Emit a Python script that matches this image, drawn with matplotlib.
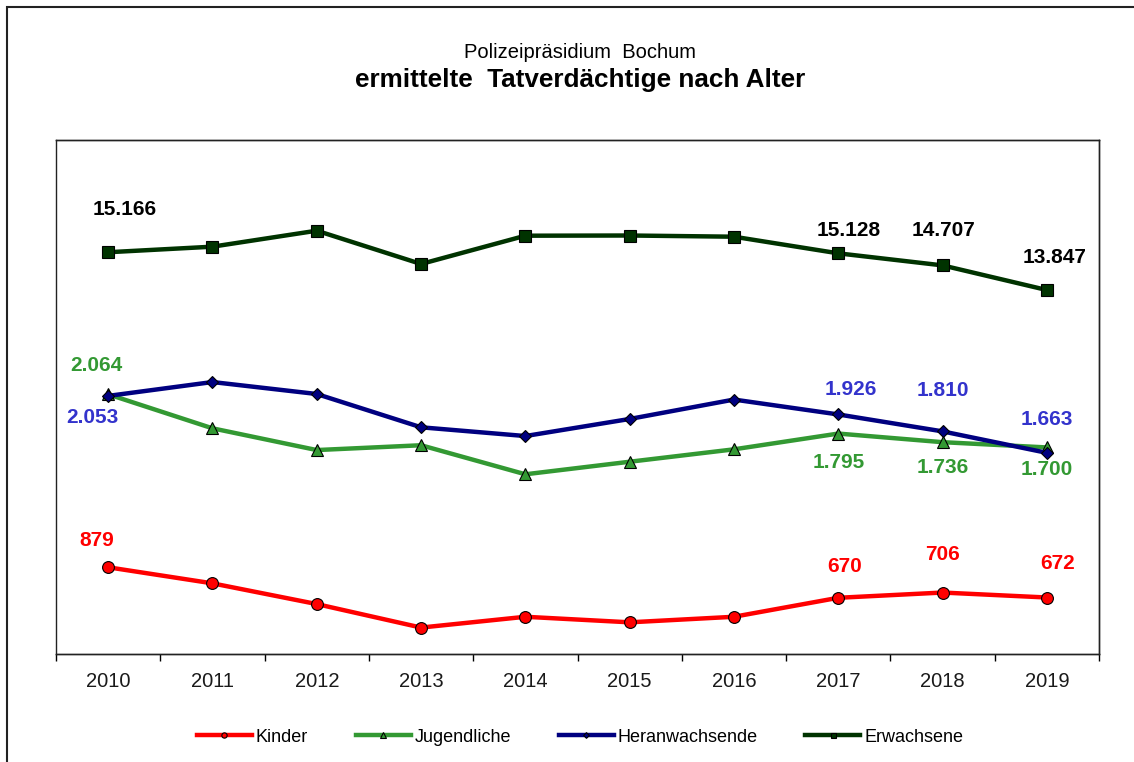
import matplotlib
matplotlib.use("Agg")
import matplotlib.pyplot as plt
from matplotlib.patches import Rectangle

years = ["2010", "2011", "2012", "2013", "2014", "2015", "2016", "2017", "2018", "2019"]
kinder = [879, 769, 627, 466, 540, 502, 540, 670, 706, 672]
jugendliche = [2064, 1831, 1682, 1715, 1516, 1602, 1687, 1795, 1736, 1700]
heranwachsende = [2053, 2148, 2066, 1838, 1778, 1895, 2028, 1926, 1810, 1663]
erwachsene = [15166, 15360, 15918, 14756, 15743, 15750, 15708, 15128, 14707, 13847]

# which points get a value label, and where (pixel offset from the marker)
lab_kinder = {0: (-11, 27), 7: (6, 31), 8: (0, 38), 9: (11, 34)}
lab_jugend = {0: (-12, 29), 7: (0, -29), 8: (0, -25), 9: (0, -22)}
lab_heran = {0: (-16, -22), 7: (13, 25), 8: (0, 41), 9: (0, 33)}
lab_erw = {0: (17, 43), 7: (10, 23), 8: (1, 35), 9: (8, 33)}

RED = "#FF0000"
GREEN = "#339933"
NAVY = "#000080"
DKGREEN = "#003300"
LBLUE = "#3333CC"

plt.rcParams.update({"font.family": ["Liberation Sans", "DejaVu Sans"]})

fig = plt.figure(figsize=(11.34, 7.62), dpi=100)
ax = fig.add_axes([56 / 1134, 1 - 654 / 762, (1099 - 56) / 1134, (654 - 140) / 762])
ax2 = ax.twinx()

x = list(range(len(years)))
common = dict(lw=3.2, mec="black", mew=0.8)
l1, = ax.plot(x, kinder, color=RED, marker="o", ms=8.5, label="Kinder", zorder=3, **common)
l2, = ax.plot(x, jugendliche, color=GREEN, marker="^", ms=9, label="Jugendliche", zorder=3, **common)
l3, = ax.plot(x, heranwachsende, color=NAVY, marker="D", ms=6.5, label="Heranwachsende", zorder=4, **common)
l4, = ax2.plot(x, erwachsene, color=DKGREEN, marker="s", ms=8, label="Erwachsene", **common)


def fmt(v):
    return f"{v:,}".replace(",", ".")


def labels(a, vals, spec, color):
    for i, (dx, dy) in spec.items():
        a.annotate(fmt(vals[i]), (x[i], vals[i]), xytext=(dx, dy), textcoords="offset pixels",
                   ha="center", va="center", fontsize=15, fontweight="bold", color=color)


labels(ax, kinder, lab_kinder, RED)
labels(ax, jugendliche, lab_jugend, GREEN)
labels(ax, heranwachsende, lab_heran, LBLUE)
labels(ax2, erwachsene, lab_erw, "black")

ax.set_xlim(-0.5, 9.5)
ax.set_ylim(285, 3806)
ax2.set_ylim(1145, 19083)
ax.set_xticks(x)
ax.set_xticklabels(years, fontsize=14.5, color="#1a1a1a")
ax.set_xticks([i - 0.5 for i in range(len(years) + 1)], minor=True)
ax.tick_params(axis="x", which="major", length=0, pad=13)
ax.tick_params(axis="x", which="minor", length=5, width=1, direction="out")
ax.set_yticks([])
ax2.set_yticks([])
for a in (ax, ax2):
    for s in a.spines.values():
        s.set_color("#222222")
        s.set_linewidth(1)
ax2.spines["left"].set_visible(False)

fig.text(580 / 1134, 1 - 53 / 762, "Polizeipräsidium  Bochum", ha="center", va="center", fontsize=14.5)
fig.text(580 / 1134, 1 - 80 / 762, "ermittelte  Tatverdächtige nach Alter", ha="center", va="center",
         fontsize=18.8, fontweight="bold")

fig.legend(handles=[l1, l2, l3, l4], loc="center", bbox_to_anchor=(580 / 1134, 1 - 737 / 762),
           ncol=4, frameon=False, fontsize=13, handlelength=3.05, handletextpad=0.2,
           columnspacing=2.65, markerscale=0.45)

fig.add_artist(Rectangle((7 / 1134, -0.1), 1.2, 1 - 7 / 762 + 0.1, transform=fig.transFigure,
                         fill=False, ec="#222222", lw=1.5))

fig.savefig("out.png", dpi=100)
